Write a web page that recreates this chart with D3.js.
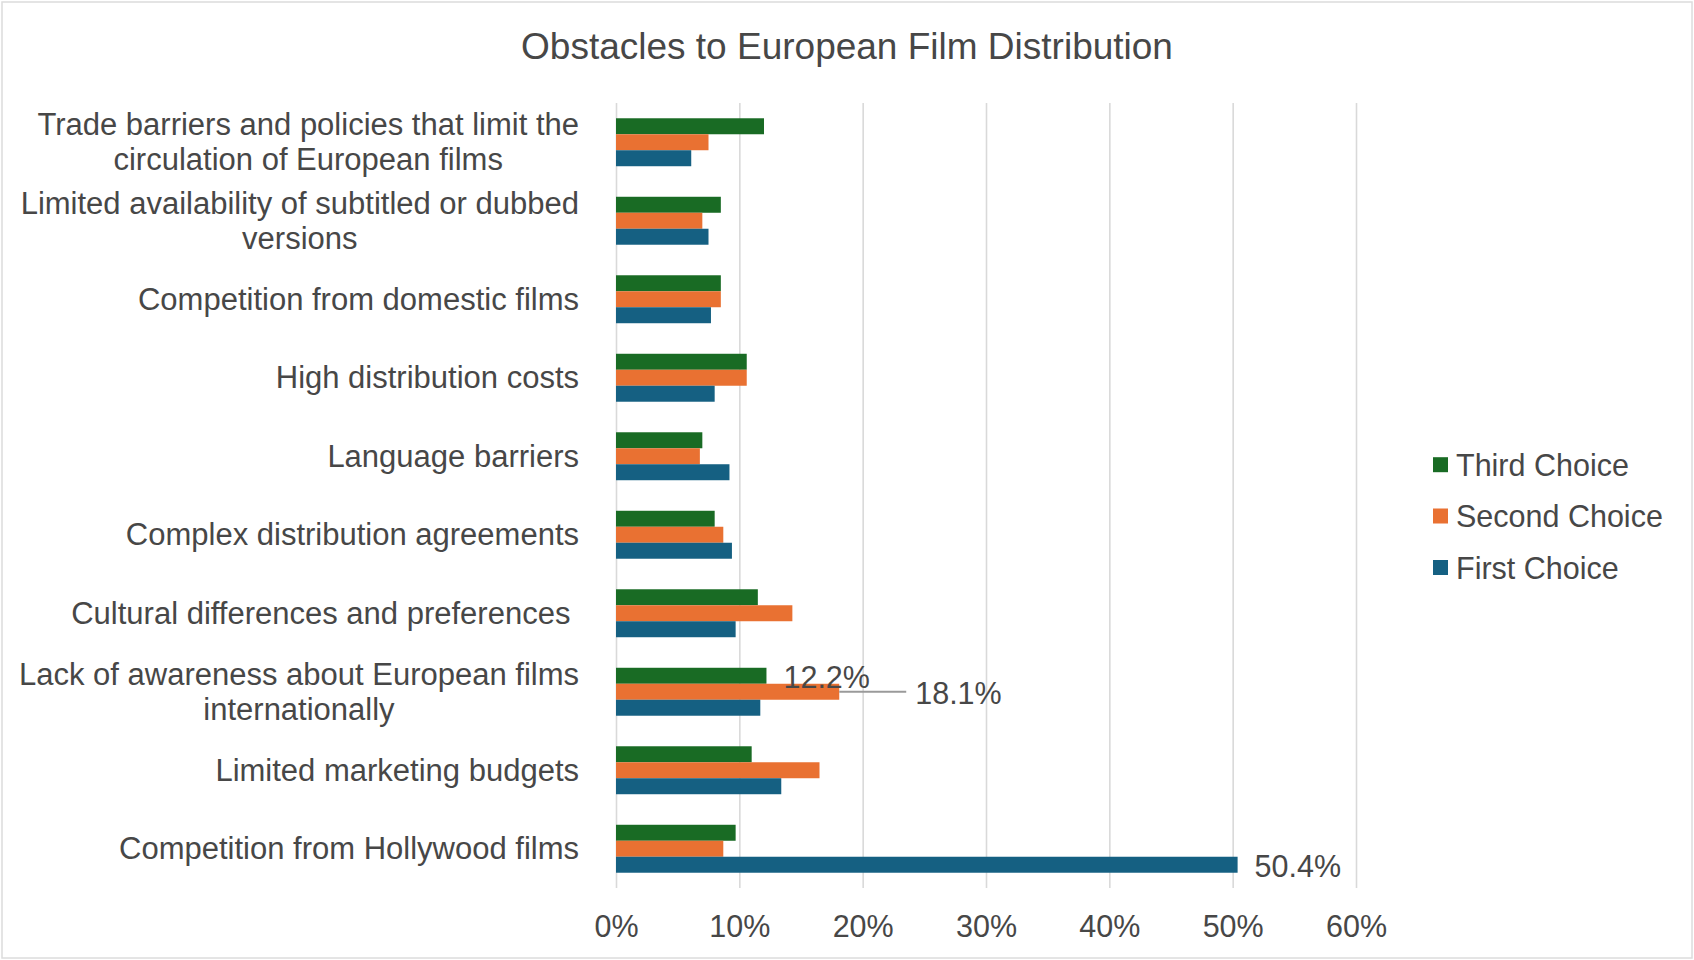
<!DOCTYPE html>
<html>
<head>
<meta charset="utf-8">
<script src="https://cdn.jsdelivr.net/npm/d3@7"></script>
<style>
  html, body { margin: 0; padding: 0; background: #ffffff; }
  svg text { font-family: "Liberation Sans", Arial, sans-serif; white-space: pre; }
</style>
</head>
<body>
<svg id="chart" width="1694" height="960"></svg>
<script>
// Obstacles, top to bottom; "\n" marks where a long label wraps
const categories = [
  "Trade barriers and policies that limit the\ncirculation of European films",
  "Limited availability of subtitled or dubbed\nversions",
  "Competition from domestic films",
  "High distribution costs",
  "Language barriers",
  "Complex distribution agreements",
  "Cultural differences and preferences ",
  "Lack of awareness about European films\ninternationally",
  "Limited marketing budgets",
  "Competition from Hollywood films"
];

// Share of respondents (%) per choice rank
const thirdChoice  = [12.0, 8.5, 8.5, 10.6, 7.0, 8.0, 11.5, 12.2, 11.0, 9.7];
const secondChoice = [7.5, 7.0, 8.5, 10.6, 6.8, 8.7, 14.3, 18.1, 16.5, 8.7];
const firstChoice  = [6.1, 7.5, 7.7, 8.0, 9.2, 9.4, 9.7, 11.7, 13.4, 50.4];

const seriesNames = ["Third Choice", "Second Choice", "First Choice"];
const seriesValues = [thirdChoice, secondChoice, firstChoice];
const seriesColors = ["#196b24", "#e97132", "#156082"];

const xTicks = [0, 10, 20, 30, 40, 50, 60];

// Bars that carry a value label: [series index, category index, leader line?]
const labelled = [[0, 7, false], [1, 7, true], [2, 9, false]];

const svg = d3.select("#chart");
const textColor = "#474747";

// outer chart frame
svg.append("rect")
  .attr("x", 2).attr("y", 2).attr("width", 1690).attr("height", 956)
  .attr("fill", "#ffffff").attr("stroke", "#dcdcdc").attr("stroke-width", 1.5);

const x = d3.scaleLinear().domain([0, 60]).range([616, 1356]);
const y = d3.scaleBand().domain(d3.range(categories.length))
  .range([103, 888]).paddingInner(0.389).paddingOuter(0.1945);
const ySub = d3.scaleBand().domain(d3.range(seriesNames.length))
  .range([0, y.bandwidth()]);

// title
svg.append("text")
  .attr("x", 847).attr("y", 46)
  .attr("text-anchor", "middle").attr("dominant-baseline", "central")
  .attr("font-size", 37).attr("fill", textColor)
  .text("Obstacles to European Film Distribution");

// vertical gridlines and tick labels via a bottom axis
const xAxis = d3.axisBottom(x).tickValues(xTicks)
  .tickSize(-(888 - 103)).tickFormat(d => d + "%");
const gx = svg.append("g").attr("transform", "translate(0,888)").call(xAxis);
gx.select(".domain").remove();
gx.selectAll(".tick line").attr("stroke", "#d9d9d9").attr("stroke-width", 1.6);
gx.selectAll(".tick text")
  .attr("y", 38).attr("dy", null).attr("dominant-baseline", "central")
  .attr("font-size", 30.5).attr("fill", textColor)
  .attr("font-family", "Liberation Sans, Arial, sans-serif");

// grouped bars
const groups = svg.append("g").selectAll("g")
  .data(categories.map((c, i) => i))
  .join("g")
  .attr("transform", i => `translate(0,${y(i)})`);

groups.selectAll("rect")
  .data(i => seriesValues.map((vals, s) => ({ s, v: vals[i] })))
  .join("rect")
  .attr("x", x(0))
  .attr("y", d => ySub(d.s))
  .attr("width", d => x(d.v) - x(0))
  .attr("height", ySub.bandwidth())
  .attr("fill", d => seriesColors[d.s]);

// category labels: block right-aligned, wrapped lines centered within it
const labelRight = 579;
const lineHeight = 34.6;
categories.forEach((c, i) => {
  const lines = c.split("\n");
  const cy = y(i) + y.bandwidth() / 2;
  const g = svg.append("g");
  const texts = lines.map((ln, k) => g.append("text")
    .attr("font-size", 31).attr("fill", textColor)
    .attr("dominant-baseline", "central")
    .attr("text-anchor", "middle")
    .attr("y", cy + (k - (lines.length - 1) / 2) * lineHeight)
    .text(ln));
  const widths = texts.map(t => t.node().getComputedTextLength());
  const maxW = d3.max(widths);
  texts.forEach(t => t.attr("x", labelRight - maxW / 2));
});

// value labels
labelled.forEach(([s, i, leader]) => {
  const v = seriesValues[s][i];
  const cy = y(i) + ySub(s) + ySub.bandwidth() / 2;
  let tx = x(v) + 17;
  if (leader) {
    svg.append("line")
      .attr("x1", x(v)).attr("x2", x(v) + 67)
      .attr("y1", cy).attr("y2", cy)
      .attr("stroke", "#9a9a9a").attr("stroke-width", 2);
    tx = x(v) + 76;
  }
  svg.append("text")
    .attr("x", tx).attr("y", cy + 1)
    .attr("dominant-baseline", "central")
    .attr("font-size", 30.5).attr("fill", textColor)
    .text(v.toFixed(1) + "%");
});

// legend
const legendRows = [464.7, 516, 567.5];
seriesNames.forEach((name, s) => {
  svg.append("rect")
    .attr("x", 1433).attr("y", legendRows[s] - 7.5)
    .attr("width", 15).attr("height", 15)
    .attr("fill", seriesColors[s]);
  svg.append("text")
    .attr("x", 1456).attr("y", legendRows[s])
    .attr("dominant-baseline", "central")
    .attr("font-size", 30.5).attr("fill", textColor)
    .text(name);
});
</script>
</body>
</html>
